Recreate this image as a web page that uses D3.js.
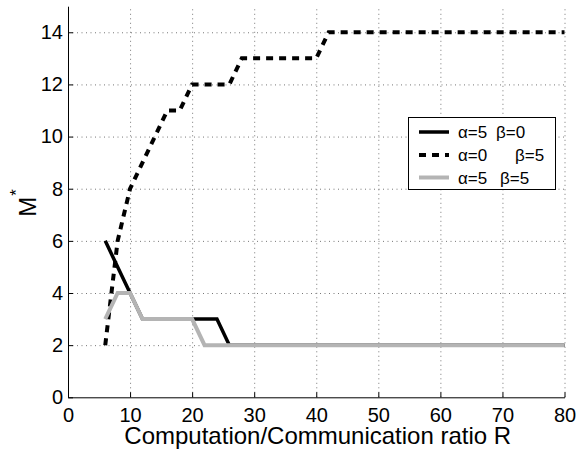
<!DOCTYPE html>
<html>
<head>
<meta charset="utf-8">
<script src="https://cdn.jsdelivr.net/npm/d3@7"></script>
<style>
  body { margin: 0; background: #fff; }
  text { font-family: "Liberation Sans", Arial, sans-serif; }
</style>
</head>
<body>
<div id="graph"></div>
<script>
// data
let ratio_R = [6, 8, 10, 12, 14, 16, 18, 20, 22, 24, 26, 28, 30, 32, 34, 36, 38, 40, 42,
               44, 46, 48, 50, 52, 54, 56, 58, 60, 62, 64, 66, 68, 70, 72, 74, 76, 78, 80];
let m_a5_b0 = [6, 5, 4, 3, 3, 3, 3, 3, 3, 3, 2, 2, 2, 2, 2, 2, 2, 2, 2,
               2, 2, 2, 2, 2, 2, 2, 2, 2, 2, 2, 2, 2, 2, 2, 2, 2, 2, 2];
let m_a0_b5 = [2, 6, 8, 9, 10, 11, 11, 12, 12, 12, 12, 13, 13, 13, 13, 13, 13, 13, 14,
               14, 14, 14, 14, 14, 14, 14, 14, 14, 14, 14, 14, 14, 14, 14, 14, 14, 14, 14];
let m_a5_b5 = [3, 4, 4, 3, 3, 3, 3, 3, 2, 2, 2, 2, 2, 2, 2, 2, 2, 2, 2,
               2, 2, 2, 2, 2, 2, 2, 2, 2, 2, 2, 2, 2, 2, 2, 2, 2, 2, 2];
let x_ticks = [0, 10, 20, 30, 40, 50, 60, 70, 80];
let y_ticks = [0, 2, 4, 6, 8, 10, 12, 14];
let legend_alpha = ["α=5", "α=0", "α=5"];
let legend_beta = ["β=0", "β=5", "β=5"];

const width = 577, height = 457;
const margin = {left: 68, top: 6.2, right: 12.5, bottom: 59.7};
const plot_w = width - margin.left - margin.right;
const plot_h = height - margin.top - margin.bottom;

let svg = d3.select("#graph")
    .append("svg")
    .attr("width", width)
    .attr("height", height)
    .append("g")
    .attr("transform", `translate(${margin.left}, ${margin.top})`);

let x = d3.scaleLinear().domain([0, 80]).range([0, plot_w]);
let y = d3.scaleLinear().domain([0, 15]).range([plot_h, 0]);

// dotted grid
let grid = svg.append("g")
    .attr("stroke", "#777")
    .attr("stroke-width", 1)
    .attr("stroke-dasharray", "1,3.5");

grid.selectAll("line.vx")
    .data(x_ticks.filter(d => d > 0))
    .enter()
    .append("line")
    .attr("x1", d => x(d) + 0.5)
    .attr("x2", d => x(d) + 0.5)
    .attr("y1", y(0))
    .attr("y2", y(15));

grid.selectAll("line.hy")
    .data(y_ticks.filter(d => d > 0))
    .enter()
    .append("line")
    .attr("x1", x(0))
    .attr("x2", x(80))
    .attr("y1", d => y(d) + 0.5)
    .attr("y2", d => y(d) + 0.5);

// axes
let xaxis = svg.append("g")
    .attr("transform", `translate(0, ${plot_h})`)
    .call(d3.axisBottom(x).tickValues(x_ticks).tickSizeInner(-5).tickSizeOuter(0).tickPadding(11));

let yaxis = svg.append("g")
    .call(d3.axisLeft(y).tickValues(y_ticks).tickSizeInner(-5).tickSizeOuter(0).tickPadding(5));

[xaxis, yaxis].forEach(function(a) {
    a.selectAll("text")
        .style("font-size", "20px")
        .style("font-family", "'Liberation Sans', Arial, sans-serif")
        .attr("fill", "#000");
    a.select(".domain").attr("stroke", "#000");
    a.selectAll(".tick line").attr("stroke", "#000");
});

// axis labels
svg.append("text")
    .attr("x", plot_w / 2 + 1.5)
    .attr("y", 444.3 - margin.top)
    .style("text-anchor", "middle")
    .style("font-size", "24px")
    .text("Computation/Communication ratio R");

let ylab = svg.append("text")
    .attr("transform", `translate(${35.5 - margin.left}, ${203 - margin.top}) rotate(-90)`)
    .style("text-anchor", "middle")
    .style("font-size", "24px");
ylab.append("tspan").text("M");
ylab.append("tspan")
    .attr("dx", 1)
    .attr("dy", -14)
    .style("font-size", "17px")
    .text("*");

// series
let series = [
    {values: m_a5_b0, color: "#000", width: 3.5, dash: null},
    {values: m_a0_b5, color: "#000", width: 4, dash: "7,6"},
    {values: m_a5_b5, color: "#b4b4b4", width: 4, dash: null}
];

let line = d3.line()
    .x(function(d) { return x(d[0]); })
    .y(function(d) { return y(d[1]); });

series.forEach(function(s) {
    svg.append("path")
        .datum(ratio_R.map((r, i) => [r, s.values[i]]))
        .attr("d", line)
        .attr("fill", "none")
        .attr("stroke", s.color)
        .attr("stroke-width", s.width)
        .attr("stroke-dasharray", s.dash)
        .attr("stroke-linejoin", "miter");
});

// legend
let legend = svg.append("g")
    .attr("transform", `translate(${408 - margin.left}, ${117 - margin.top})`);

legend.append("rect")
    .attr("x", 0.5)
    .attr("y", 0.5)
    .attr("width", 147)
    .attr("height", 72)
    .attr("fill", "#fff")
    .attr("stroke", "#000");

let row_y = [15, 38, 60.5];
let beta_x = [88, 107, 92];

legend.selectAll("line.sample")
    .data(series)
    .enter()
    .append("line")
    .attr("x1", 11)
    .attr("x2", 41)
    .attr("y1", (d, i) => row_y[i])
    .attr("y2", (d, i) => row_y[i])
    .attr("stroke", d => d.color)
    .attr("stroke-width", d => d.width)
    .attr("stroke-dasharray", d => d.dash);

legend.selectAll("text.alpha")
    .data(legend_alpha)
    .enter()
    .append("text")
    .attr("x", 50)
    .attr("y", (d, i) => row_y[i])
    .attr("dy", "0.36em")
    .style("font-size", "17px")
    .text(d => d);

legend.selectAll("text.beta")
    .data(legend_beta)
    .enter()
    .append("text")
    .attr("x", (d, i) => beta_x[i])
    .attr("y", (d, i) => row_y[i])
    .attr("dy", "0.36em")
    .style("font-size", "17px")
    .text(d => d);
</script>
</body>
</html>
